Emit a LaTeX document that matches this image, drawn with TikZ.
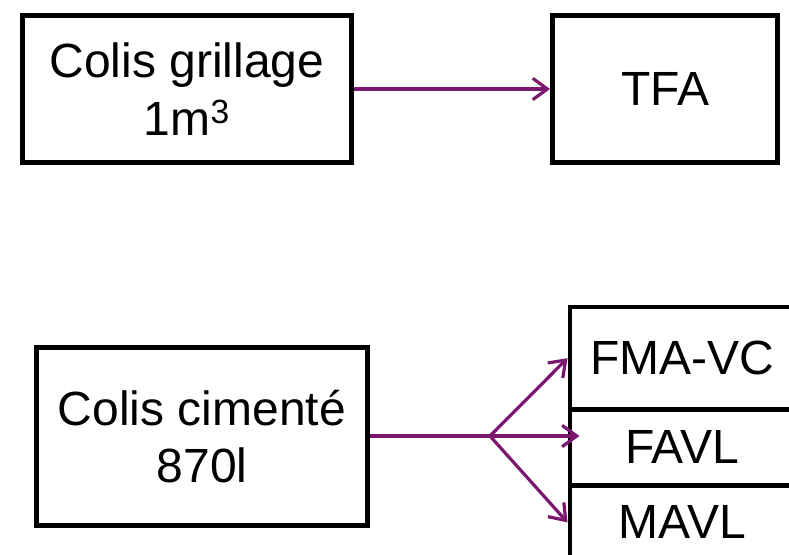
\documentclass[tikz,border=0pt]{standalone}
\usepackage{fontspec}
\setmainfont{Liberation Sans}
\usetikzlibrary{arrows.meta,positioning,calc}
\definecolor{plum}{HTML}{7B1771}
\tikzset{box/.style={draw=black,line width=3.6pt,align=center,inner sep=0pt,font=\fontsize{36}{43}\selectfont},arr/.style={-{Straight Barb[length=11pt,width=16pt]},line width=2.4pt,draw=plum}}
\begin{document}
\begin{tikzpicture}[x=0.75pt,y=-0.75pt]
\useasboundingbox (0,0) rectangle (789,554);
\node[box,minimum width=246.75pt,minimum height=110.25pt](grill) at (187,89){Colis grillage\\1m\textsuperscript{3}};\node[box,minimum width=168.75pt,minimum height=110.25pt](tfa) at (665,89){TFA};
\node[box,minimum width=248.25pt,minimum height=133.5pt](cim) at (202,436.5){Colis ciment\'e\\870l};
\node[box,anchor=north west,minimum width=168.4pt,minimum height=76.9pt](fmavc) at (567.5,304.5){FMA-VC};\node[box,below=-3.6pt of fmavc,minimum width=168.4pt,minimum height=57pt](favl){FAVL};\node[box,below=-3.6pt of favl,minimum width=168.4pt,minimum height=55.5pt](mavl){MAVL};
\coordinate (fork) at (490,436);
\draw[arr](grill.east)--(tfa.west);
\draw[line width=2.4pt,draw=plum](cim.east|-fork)--(fork);
\foreach \t in {fmavc,mavl}{\draw[arr](fork)--(\t.west);}
\draw[arr](fork)--([xshift=9pt]fork-|favl.west);
\end{tikzpicture}
\end{document}
